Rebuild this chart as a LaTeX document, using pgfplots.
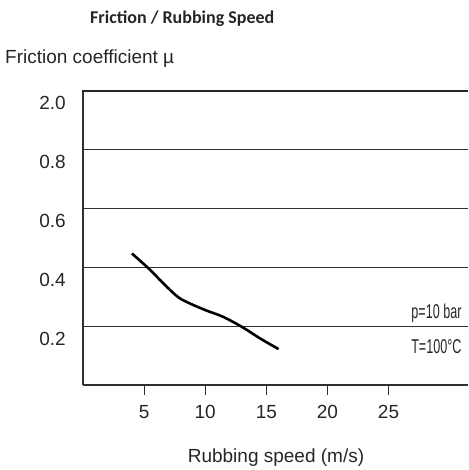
\documentclass[border=0pt]{standalone}
\usepackage{pgfplots}
\pgfplotsset{compat=1.18}
\usepackage{fontspec}
\setmainfont{Liberation Sans}
\newfontfamily\titlefont{Carlito}
\newfontfamily\narrowfont{Liberation Sans}[FakeStretch=0.63]
\definecolor{axgray}{HTML}{303030}
\begin{document}
\begin{tikzpicture}
\useasboundingbox (0,0) rectangle (468pt,470pt);
\begin{axis}[
  name=ax,
  at={(83pt,85pt)}, anchor=south west,
  scale only axis, width=385pt, height=294.3pt,
  xmin=0, xmax=31.5, ymin=0, ymax=1,
  axis x line*=bottom, axis y line*=left,
  axis line style={axgray, line width=1.3pt, -},
  xtick={5,10,15,20,25},
  ytick={0.2,0.4,0.6,0.8,1.0},
  yticklabels={0.2,0.4,0.6,0.8,2.0},
  ymajorgrids,
  major grid style={axgray, line width=1.1pt},
  ytick style={draw=none},
  xtick style={axgray, line width=1.1pt},
  tick align=outside, major tick length=10pt,
  /pgf/number format/assume math mode=true,
  ticklabel style={font=\fontsize{19}{21}\selectfont, text=black!85},
  yticklabel style={anchor=east, inner sep=0pt, xshift=-7pt, yshift=-12.5pt},
  xticklabel style={anchor=north, inner sep=0pt, yshift=-10pt},
  clip=false,
]
\addplot[black, line width=2.6pt, smooth, tension=0.5] coordinates {
  (4.0,0.447) (5.5,0.391) (6.6,0.344) (7.8,0.298) (8.8,0.276)
  (10.1,0.253) (11.5,0.231) (13.1,0.195) (14.5,0.158) (16.0,0.122)
};
\end{axis}
\draw[black!85, line width=2pt] (82.35pt,379.0pt) -- (468pt,379.0pt);
\node[anchor=base west, inner sep=0pt, font=\titlefont\bfseries\fontsize{18}{20}\selectfont, text=black!85] at (90pt,446pt) {Friction / Rubbing Speed};
\node[anchor=base west, inner sep=0pt, font=\fontsize{19}{21}\selectfont, text=black!85] at (5pt,406pt) {Friction coefficient µ};
\node[anchor=base, inner sep=0pt, font=\fontsize{19}{21}\selectfont, text=black!85] at (276pt,7pt) {Rubbing speed (m/s)};
\node[anchor=base east, inner sep=0pt, font=\narrowfont\fontsize{20}{22}\selectfont, text=black!85] at (461.7pt,151.7pt) {p=10 bar};
\node[anchor=base east, inner sep=0pt, font=\narrowfont\fontsize{20}{22}\selectfont, text=black!85] at (461.7pt,116.7pt) {T=100°C};
\end{tikzpicture}
\end{document}
